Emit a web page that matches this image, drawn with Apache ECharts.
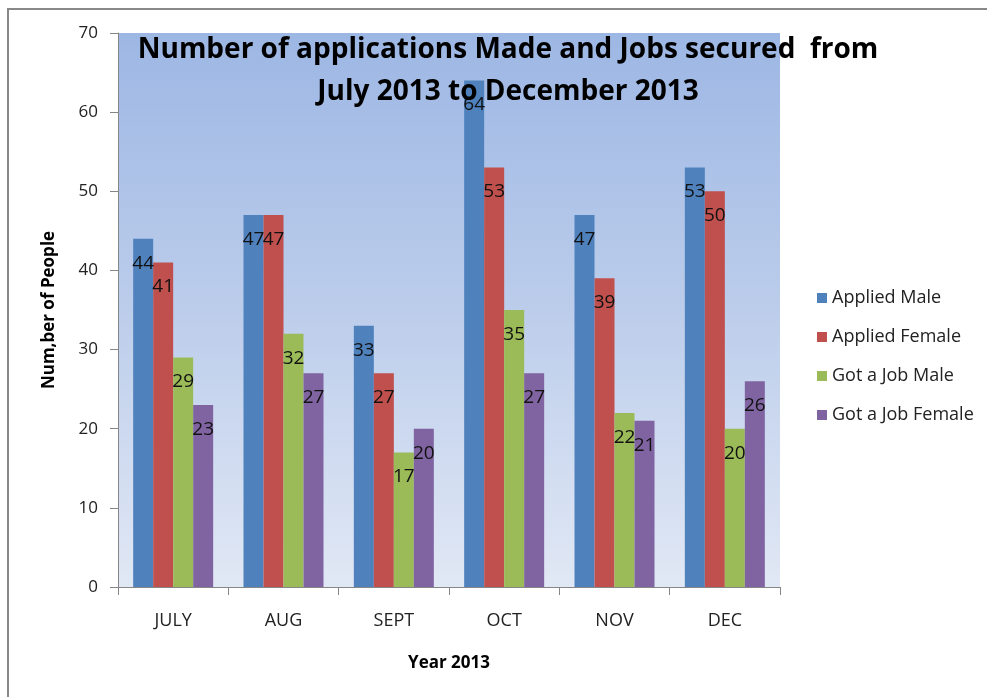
<!DOCTYPE html>
<html>
<head>
<meta charset="utf-8">
<style>
  html, body { margin: 0; padding: 0; background: #ffffff; }
  #chart { width: 987px; height: 697px; }
</style>
<script src="https://cdn.jsdelivr.net/npm/echarts@6/dist/echarts.min.js"></script>
</head>
<body>
<div id="chart"></div>
<script>
// Months covered by the survey
const months = ['JULY', 'AUG', 'SEPT', 'OCT', 'NOV', 'DEC'];

// Applications and placements per month
const appliedMale = [44, 47, 33, 64, 47, 53];
const appliedFemale = [41, 47, 27, 53, 39, 50];
const jobMale = [29, 32, 17, 35, 22, 20];
const jobFemale = [23, 27, 20, 27, 21, 26];

const seriesNames = ['Applied Male', 'Applied Female', 'Got a Job Male', 'Got a Job Female'];
const seriesColors = ['#4F81BD', '#C0504D', '#9BBB59', '#8064A2'];
const seriesData = [appliedMale, appliedFemale, jobMale, jobFemale];

const FONT = '"Open Sans", "Noto Sans", sans-serif';

const chart = echarts.init(document.getElementById('chart'), null, { renderer: 'canvas' });

const option = {
  backgroundColor: '#ffffff',
  animation: false,
  textStyle: { fontFamily: FONT },
  title: {
    text: 'Number of applications Made and Jobs secured  from\nJuly 2013 to December 2013',
    left: 503,
    top: 24,
    textAlign: 'center',
    textStyle: {
      fontFamily: FONT,
      fontSize: 28,
      fontWeight: 'bold',
      color: '#000000',
      lineHeight: 42
    }
  },
  legend: {
    orient: 'vertical',
    left: 812,
    top: 282,
    icon: 'rect',
    itemWidth: 10,
    itemHeight: 10,
    itemGap: 17,
    data: seriesNames,
    textStyle: { fontFamily: FONT, fontSize: 18, color: '#222222', lineHeight: 22 }
  },
  grid: {
    left: 118,
    top: 33,
    right: 207,
    bottom: 110,
    show: true,
    borderWidth: 0,
    backgroundColor: new echarts.graphic.LinearGradient(0, 0, 0, 1, [
      { offset: 0, color: '#9DB7E4' },
      { offset: 0.5, color: '#BCCDEB' },
      { offset: 1, color: '#E1E8F5' }
    ])
  },
  xAxis: {
    type: 'category',
    data: months,
    name: 'Year 2013',
    nameLocation: 'middle',
    nameGap: 68,
    nameTextStyle: { fontFamily: FONT, fontSize: 17, fontWeight: 'bold', color: '#000000' },
    axisLine: { lineStyle: { color: '#868686', width: 1 } },
    axisTick: { show: true, length: 8, alignWithLabel: false, lineStyle: { color: '#868686' } },
    axisLabel: { fontFamily: FONT, fontSize: 18, color: '#222222', margin: 25 },
    splitLine: { show: false }
  },
  yAxis: {
    type: 'value',
    min: 0,
    max: 70,
    interval: 10,
    name: 'Num,ber of People',
    nameLocation: 'middle',
    nameGap: 60,
    nameTextStyle: { fontFamily: FONT, fontSize: 17, fontWeight: 'bold', color: '#000000' },
    axisLine: { show: true, lineStyle: { color: '#868686', width: 1 } },
    axisTick: { show: true, length: 8, lineStyle: { color: '#868686' } },
    axisLabel: { fontFamily: FONT, fontSize: 17, color: '#222222', margin: 20 },
    splitLine: { show: false }
  },
  series: seriesData.map((vals, i) => ({
    name: seriesNames[i],
    type: 'bar',
    data: vals,
    barGap: '0%',
    barCategoryGap: '27.5%',
    itemStyle: { color: seriesColors[i] },
    label: {
      show: true,
      position: 'insideTop',
      distance: 15,
      fontFamily: FONT,
      fontSize: 19,
      color: '#111111'
    }
  })),
  graphic: [
    {
      type: 'rect',
      silent: true,
      z: 100,
      shape: { x: 8, y: 9, width: 1100, height: 800 },
      style: { fill: 'none', stroke: '#888888', lineWidth: 2 }
    }
  ]
};

chart.setOption(option);
</script>
</body>
</html>
